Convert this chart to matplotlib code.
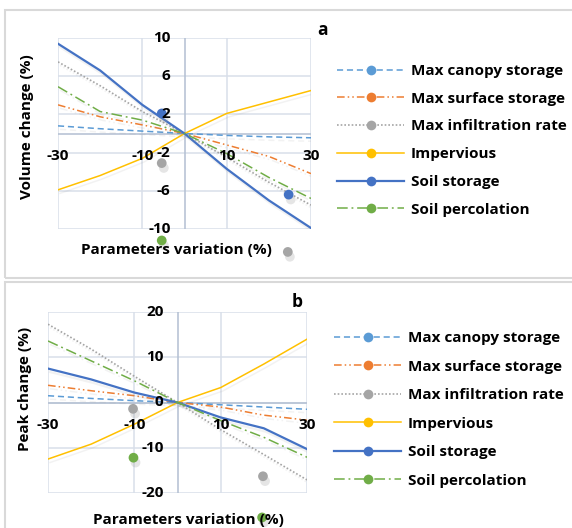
import numpy as np
import matplotlib
matplotlib.use("Agg")
import matplotlib.pyplot as plt
import matplotlib.patheffects as pe
from matplotlib.lines import Line2D
from matplotlib.patches import Rectangle

plt.rcParams["font.family"] = ["Open Sans", "DejaVu Sans"]
plt.rcParams["font.weight"] = "bold"

# ---- data -------------------------------------------------------------
variation = [-30, -20, -10, 0, 10, 20, 30]
series_names = ["Max canopy storage", "Max surface storage", "Max infiltration rate",
                "Impervious", "Soil storage", "Soil percolation"]

# panel a: volume change (%)
vol_canopy = [0.8, 0.5, 0.25, 0, -0.2, -0.35, -0.45]
vol_surface = [3.0, 1.75, 0.9, 0, -1.2, -2.4, -4.2]
vol_infil = [7.5, 5.0, 2.3, 0, -2.5, -5.1, -7.5]
vol_imperv = [-5.9, -4.4, -2.6, 0, 2.1, 3.3, 4.5]
vol_soilst = [9.4, 6.6, 3.0, 0, -3.7, -7.0, -9.9]
vol_perc = [4.9, 2.3, 1.4, 0, -2.1, -4.6, -6.8]

# panel b: peak change (%)
pk_canopy = [1.5, 0.9, 0.4, 0, -0.5, -1.0, -1.5]
pk_surface = [3.8, 2.6, 1.5, 0, -1.0, -2.8, -3.9]
pk_infil = [17.3, 11.8, 5.8, 0, -6.0, -11.5, -17.1]
pk_imperv = [-12.5, -9.2, -4.8, 0, 3.3, 8.5, 14.0]
pk_soilst = [7.5, 5.1, 2.2, 0, -3.3, -5.7, -10.3]
pk_perc = [13.6, 9.2, 4.8, 0, -4.0, -7.7, -12.1]

# stray marker dots seen in the picture
dots_a_x = [-5.4, -5.4, -5.4, 24.7, 24.5]
dots_a_y = [2.1, -3.1, -11.2, -6.4, -12.4]
dots_a_c = ["#4472C4", "#A5A5A5", "#70AD47", "#4472C4", "#A5A5A5"]
dots_b_x = [-10.3, -10.2, 19.8, 19.6]
dots_b_y = [-1.4, -12.2, -16.3, -25.4]
dots_b_c = ["#A5A5A5", "#70AD47", "#A5A5A5", "#70AD47"]

xticks = [-30, -10, 10, 30]
yticks_a = [10, 6, 2, -2, -6, -10]
yticks_b = [20, 10, 0, -10, -20]

colors = ["#5B9BD5", "#ED7D31", "#A5A5A5", "#FFC000", "#4472C4", "#70AD47"]
styles = [(0, (4, 2.5)), (0, (5, 2, 1, 2, 1, 2)), (0, (1, 1.2)), "-", "-",
          (0, (7, 2.5, 1.2, 2.5))]
widths = [1.1, 1.1, 1.2, 1.1, 1.6, 1.1]

FS = 11

W, H = 572, 528
fig = plt.figure(figsize=(W / 100, H / 100), dpi=100)


def fx(px):
    return px / W


def fy(py):
    return 1 - py / H


# outer boxes
for top, bot in [(10, 278), (282, 540)]:
    fig.patches.append(Rectangle((fx(5), fy(bot)), fx(W), fy(top) - fy(bot),
                                 transform=fig.transFigure, fill=False,
                                 ec="#d9d9d9", lw=1.5))


def panel(rect, series, ylim, yticks, ylabel, ylab_xy, xlab_xy, tag, tag_xy,
          dx, dy, dc, leg_xy, leg_sp, yoff):
    l, r, t, b = rect
    ax = fig.add_axes([fx(l), fy(b), fx(r) - fx(l), fy(t) - fy(b)])
    ax.set_xlim(-30, 30)
    ax.set_ylim(*ylim)
    for s in ax.spines.values():
        s.set_visible(False)
    ax.set_xticks([])
    ax.set_yticks([])
    for v in xticks:
        ax.axvline(v, color="#d9dfe9", lw=1.1, zorder=0)
    for v in yticks:
        ax.axhline(v, color="#d9dfe9", lw=1.1, zorder=0)
    ax.axhline(0, color="#b3bfd2", lw=1.1, zorder=0.5)
    ax.axvline(0, color="#b3bfd2", lw=1.1, zorder=0.5)

    shadow = [pe.SimpleLineShadow(offset=(1.5, -2.5), shadow_color="0.6", alpha=0.12),
              pe.Normal()]
    for vals, c, ls, lw in zip(series, colors, styles, widths):
        ax.plot(variation, vals, color=c, ls=ls, lw=lw, zorder=2, path_effects=shadow)

    for x, y, c in zip(dx, dy, dc):
        ax.plot([x], [y], "o", color=c, ms=7, mew=0, zorder=3, clip_on=False,
                path_effects=[pe.SimplePatchShadow(offset=(1.5, -3.5),
                                                   shadow_rgbFace="0.6", alpha=0.25),
                              pe.Normal()])

    for v in yticks:
        if v == 0 and tag == "a":
            continue
        ax.annotate(str(v), (0, v), textcoords="offset points", xytext=(yoff, 0),
                    ha="right", va="center", fontsize=FS, fontweight="bold")
    for v in xticks:
        ax.annotate(str(v), (v, 0), textcoords="offset points", xytext=(0, -16),
                    ha="center", va="center", fontsize=FS, fontweight="bold")

    fig.text(fx(ylab_xy[0]), fy(ylab_xy[1]), ylabel, rotation=90, ha="center",
             va="center", fontsize=FS, fontweight="bold")
    fig.text(fx(xlab_xy[0]), fy(xlab_xy[1]), "Parameters variation (%)", ha="center",
             va="center", fontsize=FS, fontweight="bold")
    fig.text(fx(tag_xy[0]), fy(tag_xy[1]), tag, ha="center", va="center",
             fontsize=12.5, fontweight="bold")

    handles = [Line2D([0], [0], color=c, ls=ls, lw=lw, marker="o", ms=7, mew=0,
                      label=n)
               for c, ls, lw, n in zip(colors, styles, widths, series_names)]
    fig.legend(handles=handles, loc="upper left",
               bbox_to_anchor=(fx(leg_xy[0]), fy(leg_xy[1])), frameon=False,
               handlelength=4.4, handletextpad=0.45,
               labelspacing=leg_sp, numpoints=1, borderpad=0, borderaxespad=0,
               prop={"weight": "bold", "size": FS})
    return ax


panel((58, 311, 38, 229),
      [vol_canopy, vol_surface, vol_infil, vol_imperv, vol_soilst, vol_perc],
      (-10, 10), yticks_a, "Volume change (%)", (27, 127), (176, 250), "a", (322, 30),
      dots_a_x, dots_a_y, dots_a_c, (337, 64), 0.9, -10)

panel((48, 307, 312, 493),
      [pk_canopy, pk_surface, pk_infil, pk_imperv, pk_soilst, pk_perc],
      (-20, 20), yticks_b, "Peak change (%)", (25, 389), (188, 520), "b", (297, 302),
      dots_b_x, dots_b_y, dots_b_c, (334, 331), 0.95, -10)

fig.savefig("out.png", dpi=100)
